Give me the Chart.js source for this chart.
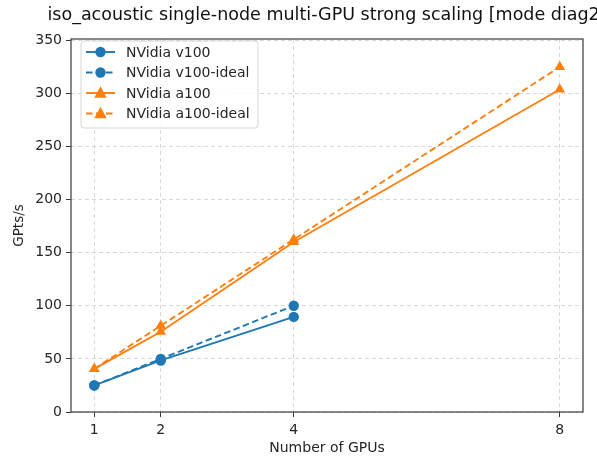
<!DOCTYPE html>
<html><head><meta charset="utf-8">
<script src="https://cdn.jsdelivr.net/npm/chart.js@4/dist/chart.umd.min.js"></script>
<style>html,body{margin:0;padding:0;background:#fff}#wrap{width:597px;height:460px}</style>
</head><body><div id="wrap"><canvas id="c" width="597" height="460"></canvas></div>
<script>
const chartTitle = "iso_acoustic single-node multi-GPU strong scaling [mode diag2]";
const xLabel = "Number of GPUs";
const yLabel = "GPts/s";
const gpuCounts = [1, 2, 4, 8];
const v100Gpus = [1, 2, 4];
const v100 = [25, 48.5, 89.5];
const v100Ideal = [25, 50, 100];
const a100Gpus = [1, 2, 4, 8];
const a100 = [40.6, 75.5, 160, 303.5];
const a100Ideal = [40.6, 81.2, 162.4, 324.8];
const yTicks = [0, 50, 100, 150, 200, 250, 300, 350];
const labels = ["NVidia v100", "NVidia v100-ideal", "NVidia a100", "NVidia a100-ideal"];

const BLUE = "#1f77b4", ORANGE = "#ff7f0e";
const FONT = "'DejaVu Sans', sans-serif";
const TXT = "#262626";
const toXY = (xs, ys) => xs.map((x, i) => ({x, y: ys[i]}));

function mkSet(label, xs, ys, color, dashed, style, r) {
  return {label, data: toXY(xs, ys), borderColor: color, backgroundColor: color,
    borderWidth: 1.9, borderDash: dashed ? [6.5, 3.5] : [], pointStyle: style,
    pointRadius: r, pointHoverRadius: r, pointBorderWidth: 0, tension: 0, fill: false};
}

function drawMarker(ctx, style, x, y, r, color) {
  ctx.save(); ctx.fillStyle = color; ctx.beginPath();
  if (style === 'triangle') {
    ctx.moveTo(x, y - r * 1.1); ctx.lineTo(x + r, y + r * 0.75); ctx.lineTo(x - r, y + r * 0.75); ctx.closePath();
  } else { ctx.arc(x, y, r, 0, Math.PI * 2); }
  ctx.fill(); ctx.restore();
}

const decor = {
  id: 'decor',
  afterDraw(chart) {
    const {ctx, chartArea: a} = chart;
    ctx.save();
    // frame
    ctx.strokeStyle = "#3a3a3a"; ctx.lineWidth = 1.2; ctx.setLineDash([]);
    ctx.strokeRect(a.left, a.top, a.right - a.left, a.bottom - a.top);
    // title (centred over the plot area, clipped by the canvas edge)
    ctx.fillStyle = "#111"; ctx.font = "17.5px " + FONT; ctx.textAlign = "center"; ctx.textBaseline = "alphabetic";
    ctx.fillText(chartTitle, (a.left + a.right) / 2, 20);
    // legend
    const bx = 81, by = 41, bw = 177, bh = 87;
    ctx.beginPath();
    if (ctx.roundRect) ctx.roundRect(bx, by, bw, bh, 3); else ctx.rect(bx, by, bw, bh);
    ctx.fillStyle = "rgba(255,255,255,0.85)"; ctx.fill();
    ctx.strokeStyle = "#d6d6d6"; ctx.lineWidth = 1; ctx.stroke();
    ctx.font = "14px " + FONT; ctx.textAlign = "left"; ctx.textBaseline = "middle";
    chart.data.datasets.forEach((ds, i) => {
      const y = 52 + i * 20.5;
      ctx.save();
      ctx.strokeStyle = ds.borderColor; ctx.lineWidth = ds.borderWidth; ctx.setLineDash(ds.borderDash);
      ctx.beginPath(); ctx.moveTo(86, y); ctx.lineTo(115, y); ctx.stroke(); ctx.restore();
      drawMarker(ctx, ds.pointStyle, 100.5, y, ds.pointRadius, ds.borderColor);
      ctx.fillStyle = TXT; ctx.fillText(ds.label, 126, y + 1);
    });
    ctx.restore();
  }
};

const gridOpts = {color: "rgba(200,200,200,0.7)", tickLength: 5, tickColor: "#3a3a3a", tickBorderDash: [], tickWidth: 1};

new Chart(document.getElementById('c'), {
  type: 'line',
  data: {datasets: [
    mkSet(labels[0], v100Gpus, v100, BLUE, false, 'circle', 5.2),
    mkSet(labels[1], v100Gpus, v100Ideal, BLUE, true, 'circle', 5.2),
    mkSet(labels[2], a100Gpus, a100, ORANGE, false, 'triangle', 6.2),
    mkSet(labels[3], a100Gpus, a100Ideal, ORANGE, true, 'triangle', 6.2)
  ]},
  options: {
    responsive: false, animation: false, devicePixelRatio: 1,
    layout: {padding: {left: 0, right: 14, top: 39, bottom: 0}},
    plugins: {legend: {display: false}, title: {display: false}, tooltip: {enabled: false}},
    scales: {
      x: {type: 'linear', min: 0.65, max: 8.35,
        afterBuildTicks: s => { s.ticks = gpuCounts.map(v => ({value: v})); },
        afterFit: s => { s.height = 48; },
        grid: gridOpts,
        border: {display: false, dash: [4, 3]},
        ticks: {color: TXT, font: {family: FONT, size: 14}, padding: 5, maxRotation: 0, autoSkip: false},
        title: {display: true, text: xLabel, color: TXT, font: {family: FONT, size: 14}, padding: {top: 0, bottom: 3.5}}
      },
      y: {type: 'linear', min: 0, max: 351,
        afterBuildTicks: s => { s.ticks = yTicks.map(v => ({value: v})); },
        afterFit: s => { s.width = 71; },
        grid: gridOpts,
        border: {display: false, dash: [4, 3]},
        ticks: {color: TXT, font: {family: FONT, size: 14}, padding: 4, autoSkip: false},
        title: {display: true, text: yLabel, color: TXT, font: {family: FONT, size: 13.5}, padding: {top: 11.5, bottom: 0}}
      }
    }
  },
  plugins: [decor]
});
</script></body></html>
